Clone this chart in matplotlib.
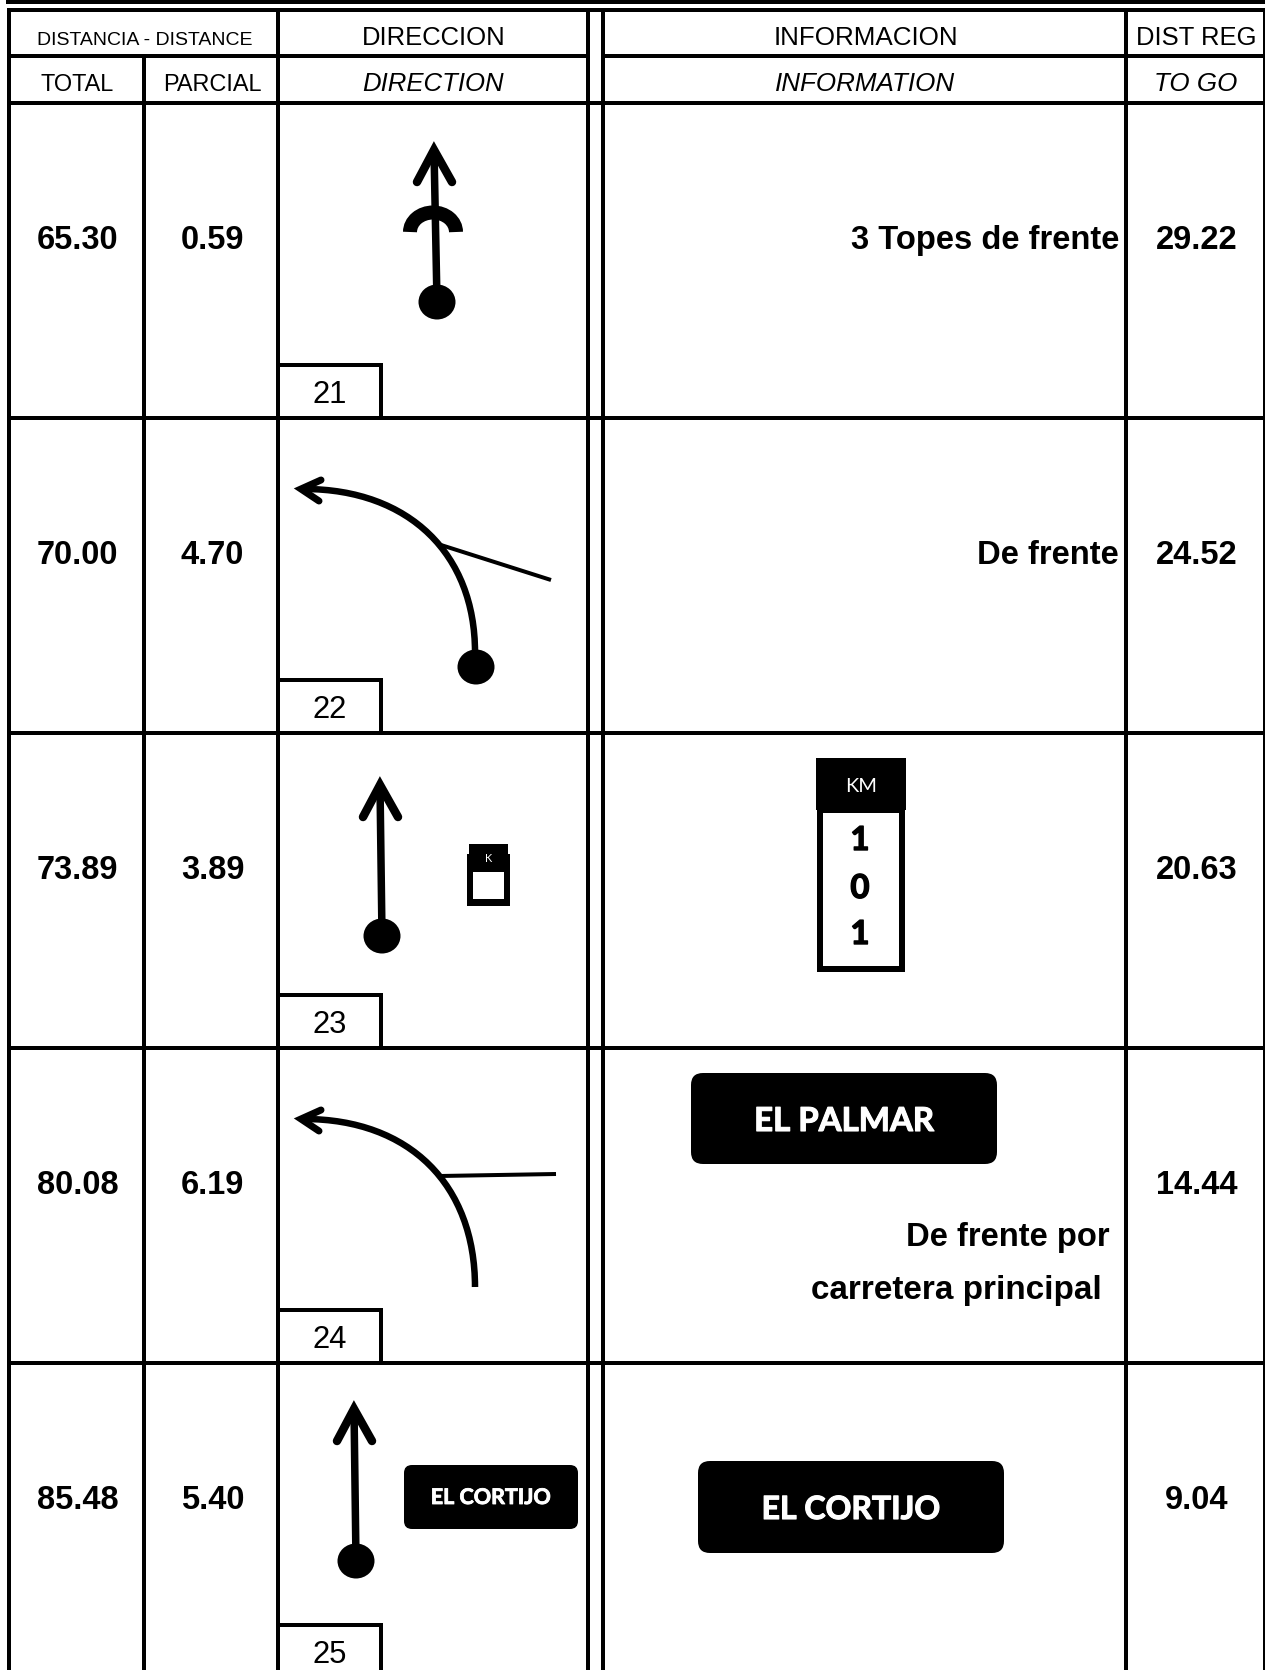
"""
Road book page, rows 21 to 25. Everything is drawn in pixel coordinates
of the scanned page, y going down.
"""
import matplotlib
matplotlib.use("Agg")
import matplotlib.pyplot as plt
import matplotlib.patheffects as pe
from matplotlib.patches import Arc, Ellipse, FancyBboxPatch, PathPatch, Rectangle
from matplotlib.path import Path

W, H = 1265, 1670
ARIAL = "Liberation Sans"
CALIBRI = "Lato"

# table text
total = ["65.30", "70.00", "73.89", "80.08", "85.48"]
parcial = ["0.59", "4.70", "3.89", "6.19", "5.40"]
to_go = ["29.22", "24.52", "20.63", "14.44", "9.04"]
box_no = ["21", "22", "23", "24", "25"]
info_right = ["3 Topes de frente", "De frente", "", "", ""]
km_digits = ["1", "0", "1"]

# grid lines
col_x = [9, 144, 278, 588, 603, 1126, 1264]
head_y = [10, 56, 103]
row_y = [103, 418, 733, 1048, 1363]
box_top = [365, 680, 995, 1310, 1625]

# straight arrows: head left, head vertex, head right, centre of the dot
straight = [
    {"left": (417, 182), "vertex": (434, 150), "right": (452, 182), "dot": (437, 302)},
    {"left": (363, 817), "vertex": (380, 785), "right": (398, 817), "dot": (382, 936)},
    {"left": (337, 1441), "vertex": (354, 1409), "right": (372, 1441), "dot": (356, 1561)},
]

# left turns: curve control points, head, side road
turn_22 = {
    "curve": [(475, 652), (475, 555), (410, 489), (304, 489)],
    "head": [(321, 480), (301, 489), (319, 501)],
    "road": [(441, 545), (551, 580)],
    "dot": (476, 667),
}
turn_24 = {
    "curve": [(475, 1287), (475, 1185), (410, 1119), (304, 1119)],
    "head": [(321, 1110), (301, 1119), (319, 1131)],
    "road": [(440, 1176), (556, 1174)],
    "dot": None,
}

fig = plt.figure(figsize=(W / 100, H / 100), dpi=100)
ax = fig.add_axes([0, 0, 1, 1])
ax.set_xlim(0, W)
ax.set_ylim(H, 0)
ax.axis("off")


def pt(px):
    return px * 0.72


def hline(x0, x1, y, w=4):
    ax.plot([x0, x1], [y, y], color="k", lw=pt(w), solid_capstyle="butt")


def vline(x, y0, y1, w=4):
    ax.plot([x, x], [y0, y1], color="k", lw=pt(w), solid_capstyle="butt")


def label(x, y, s, px, ha="center", weight="normal", style="normal", family=ARIAL,
          color="k", fatten=0):
    t = ax.text(x, y, s, fontsize=pt(px), ha=ha, va="baseline", weight=weight,
                style=style, family=family, color=color)
    if fatten:
        # Lato bold is lighter than the face on the page
        t.set_path_effects([pe.withStroke(linewidth=fatten, foreground=color)])


def head(pts, w=8.5):
    ax.plot(*zip(*pts), color="k", lw=pt(w), solid_capstyle="round",
            solid_joinstyle="miter")


def dot(xy):
    ax.add_patch(Ellipse(xy, 37, 35, color="k", lw=0))


def sign(x0, y0, x1, y1, r):
    ax.add_patch(FancyBboxPatch((x0 + r, y0 + r), x1 - x0 - 2 * r, y1 - y0 - 2 * r,
                                boxstyle="round,pad=%d,rounding_size=%d" % (r, r),
                                fc="k", ec="none"))


# top bar and grid
ax.add_patch(Rectangle((6, 0), W - 6, 4, color="k", lw=0))
hline(7, W, head_y[0])
hline(7, col_x[3], head_y[1])
hline(col_x[4], W, head_y[1])
for y in row_y:
    hline(7, W, y)
for i, x in enumerate(col_x):
    y0 = head_y[1] if i == 1 else head_y[0]
    vline(x, y0, H, 3 if i == 6 else 4)

# header
label(145, 45, "DISTANCIA - DISTANCE", 19.5)
label(77, 91, "TOTAL", 23.5)
label(212, 91, "PARCIAL", 23.5)
label(434, 45, "DIRECCION", 25.6)
label(433, 91, "DIRECTION", 25.8, style="italic")
label(866, 45, "INFORMACION", 26)
label(865, 91, "INFORMATION", 26, style="italic")
label(1196, 45, "DIST REG", 25.6)
label(1196, 91, "TO GO", 26, style="italic")

# rows
for i in range(5):
    base = row_y[i] + 146
    label(77.5, base, total[i], 32.6, weight="bold")
    label(212.5, base, parcial[i], 32.6, weight="bold")
    label(1196.5, base, to_go[i], 32.6, weight="bold")
    if info_right[i]:
        label(1119, base, info_right[i], 32.8, ha="right", weight="bold")
    hline(278, 381, box_top[i])
    vline(381, box_top[i] - 2, min(box_top[i] + 53, H))
    label(330, box_top[i] + 38, box_no[i], 31)

# straight arrows
for a in straight:
    ax.plot(*zip(a["vertex"], a["dot"]), color="k", lw=pt(7.5), solid_capstyle="butt")
    head([a["left"], a["vertex"], a["right"]])
    dot(a["dot"])

# the bump on row 21
ax.add_patch(Arc((433, 232), 46, 39, theta1=180, theta2=360, color="k", lw=pt(14),
                 capstyle="butt"))

# left turns
for t in [turn_22, turn_24]:
    codes = [Path.MOVETO, Path.CURVE4, Path.CURVE4, Path.CURVE4]
    ax.add_patch(PathPatch(Path(t["curve"], codes), fc="none", ec="k", lw=pt(6.5),
                           capstyle="butt"))
    head(t["head"], 7)
    ax.plot(*zip(*t["road"]), color="k", lw=pt(4), solid_capstyle="butt")
    if t["dot"]:
        dot(t["dot"])

# big KM sign
ax.add_patch(Rectangle((820, 810), 82, 159, fc="w", ec="k", lw=pt(6)))
ax.add_patch(Rectangle((816, 758), 90, 52, color="k", lw=0))
label(861, 792, "KM", 20, family=CALIBRI, color="w")
for y, d in zip([850, 898, 944], km_digits):
    label(860, y, d, 33, family=CALIBRI, weight="bold", fatten=1)

# small KM sign
ax.add_patch(Rectangle((470, 857), 37, 46, fc="k", ec="k", lw=pt(6)))
ax.add_patch(Rectangle((473, 872), 31, 27, fc="w", ec="none"))
ax.add_patch(Rectangle((469, 844), 39, 14, color="k", lw=0))
label(489, 862, "K", 11, family=CALIBRI, color="w")

# place name signs
sign(691, 1073, 997, 1164, 12)
label(844, 1131, "EL PALMAR", 33, family=CALIBRI, weight="bold", color="w", fatten=0.8)
sign(698, 1461, 1004, 1553, 12)
label(851, 1519, "EL CORTIJO", 32, family=CALIBRI, weight="bold", color="w", fatten=0.8)
sign(404, 1465, 578, 1529, 8)
label(491, 1504, "EL CORTIJO", 21.5, family=CALIBRI, weight="bold", color="w", fatten=0.6)

label(1110, 1246, "De frente por", 32.8, ha="right", weight="bold")
label(1102, 1299, "carretera principal", 33.3, ha="right", weight="bold")

fig.savefig("out.png", dpi=100)
